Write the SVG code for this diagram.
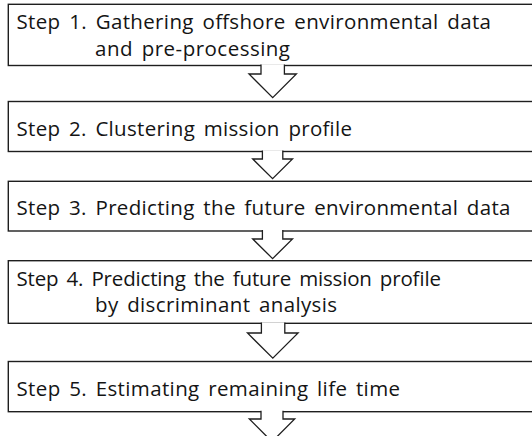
<svg xmlns="http://www.w3.org/2000/svg" width="532" height="436" viewBox="0 0 532 436">
  <style>
    .box { fill: #ffffff; stroke: #1e1e1e; stroke-width: 1.4; }
    .lbl { font-family: "Open Sans", "Noto Sans", sans-serif; font-size: 20.5px; fill: #141414; word-spacing: 3px; }
    .arrow { fill: #ffffff; stroke: #1e1e1e; stroke-width: 1.3; stroke-linejoin: miter; }
  </style>
  <rect width="532" height="436" fill="#ffffff"/>

  <!-- process steps -->
  <g id="step1">
    <rect class="box" x="8.3" y="4.3" width="540" height="61.2"/>
    <text class="lbl" x="16.5" y="29.3" textLength="474.5" lengthAdjust="spacing">Step 1. Gathering offshore environmental data</text>
    <text class="lbl" x="95" y="55.5" textLength="195" lengthAdjust="spacing">and pre-processing</text>
  </g>
  <g id="step2">
    <rect class="box" x="8.3" y="101.5" width="540" height="50"/>
    <text class="lbl" x="16.5" y="135.7" textLength="335.5" lengthAdjust="spacing">Step 2. Clustering mission profile</text>
  </g>
  <g id="step3">
    <rect class="box" x="8.3" y="181.3" width="540" height="49.7"/>
    <text class="lbl" x="16.5" y="215" textLength="494" lengthAdjust="spacing">Step 3. Predicting the future environmental data</text>
  </g>
  <g id="step4">
    <rect class="box" x="8.3" y="260.7" width="540" height="62.6"/>
    <text class="lbl" x="16.5" y="286.2" textLength="424.5" lengthAdjust="spacing">Step 4. Predicting the future mission profile</text>
    <text class="lbl" x="95" y="312.4" textLength="242" lengthAdjust="spacing">by discriminant analysis</text>
  </g>
  <g id="step5">
    <rect class="box" x="8.3" y="361.5" width="540" height="50.2"/>
    <text class="lbl" x="16.5" y="395.7" textLength="383.5" lengthAdjust="spacing">Step 5. Estimating remaining life time</text>
  </g>

  <!-- block arrows between steps; white fill hides the box edge under the stem -->
  <g id="connectors">
    <path class="arrow" d="M261,64.6 V74 H249 L272.7,97.7 L296.4,74 H284.4 V64.6"/>
    <path class="arrow" d="M262.4,150.6 V159 H252.7 L272.6,178.6 L292.5,159 H282.8 V150.6"/>
    <path class="arrow" d="M262.4,230.1 V239 H252.7 L272.6,258.6 L292.5,239 H282.8 V230.1"/>
    <path class="arrow" d="M261.4,322.4 V333 H247.5 L272.8,358.2 L298.1,333 H284.8 V322.4"/>
    <path class="arrow" d="M261,410.8 V419 H249.3 L272,441.7 L294.7,419 H283 V410.8"/>
  </g>
</svg>
